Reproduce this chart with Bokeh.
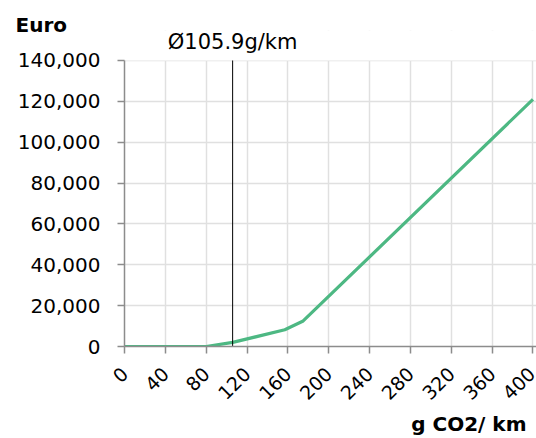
import math
from bokeh.plotting import figure
from bokeh.models import Title, FixedTicker, NumeralTickFormatter, Range1d, BoxAnnotation
from bokeh.core.properties import value
from bokeh.embed import file_html
from bokeh.resources import INLINE

# data (g CO2/km -> Euro)
co2 = [0, 80, 106, 157, 175, 400]
euro = [0, 0, 2000, 8200, 12500, 121000]
avg_co2 = 105.9
avg_label = "Ø105.9g/km"
x_ticks = [0, 40, 80, 120, 160, 200, 240, 280, 320, 360, 400]
y_ticks = [0, 20000, 40000, 60000, 80000, 100000, 120000, 140000]

FONT = "DejaVu Sans"
GREEN = "#4db883"
y_max = max(y_ticks)

# frame extends above the top tick so the average label can sit inside it
p = figure(frame_width=412, frame_height=316, output_backend="svg", toolbar_location=None,
           x_range=Range1d(0, 403.5), y_range=Range1d(0, y_max + 14680))
p.min_border_left = 124
p.min_border_right = 0
p.min_border_top = 30
p.min_border_bottom = 0
p.outline_line_color = None
p.background_fill_color = "white"

xa = p.xaxis[0]
ya = p.yaxis[0]
xa.ticker = FixedTicker(ticks=x_ticks)
ya.ticker = FixedTicker(ticks=y_ticks)
ya.formatter = NumeralTickFormatter(format="0,0")
ya.bounds = (0, y_max)
for ax in (xa, ya):
    ax.axis_line_color = "#8c8c8c"
    ax.axis_line_width = 1.5
    ax.major_tick_line_color = "#8c8c8c"
    ax.major_tick_line_width = 1.5
    ax.major_tick_out = 7
    ax.major_tick_in = 0
    ax.minor_tick_line_color = None
    ax.major_label_text_font = FONT
    ax.major_label_text_font_size = "20px"
    ax.major_label_text_color = "black"
xa.major_label_text_font_size = "19px"
xa.major_label_orientation = math.pi / 4
ya.major_label_standoff = 17
xa.major_label_standoff = 17

p.xgrid[0].grid_line_color = "#e0e0e0"
p.ygrid[0].grid_line_color = "#e0e0e0"
p.xgrid[0].grid_line_width = 1.5
p.ygrid[0].grid_line_width = 1.5

# hide grid lines above the top tick
p.add_layout(BoxAnnotation(bottom=y_max, fill_color="white", fill_alpha=1.0,
                           line_alpha=0, level="underlay"))

p.line(co2, euro, line_color=GREEN, line_width=3.2)
p.segment(x0=[avg_co2], y0=[0], x1=[avg_co2], y1=[y_max], line_color="black", line_width=1)
p.text(x=[avg_co2], y=[y_max + 9200], text=[avg_label], text_font=value(FONT),
       text_font_size="21px", text_align="center", text_baseline="alphabetic",
       text_color="black")

t_euro = Title(text="Euro", align="left", offset=-109, text_font=FONT,
               text_font_size="20px", text_font_style="bold", text_color="black",
               standoff=-12)
p.add_layout(t_euro, "above")
t_x = Title(text="g CO2/ km", align="right", offset=10, text_font=FONT,
            text_font_size="20px", text_font_style="bold", text_color="black",
            standoff=0)
p.add_layout(t_x, "below")

open("out.html", "w").write(file_html(p, INLINE))
